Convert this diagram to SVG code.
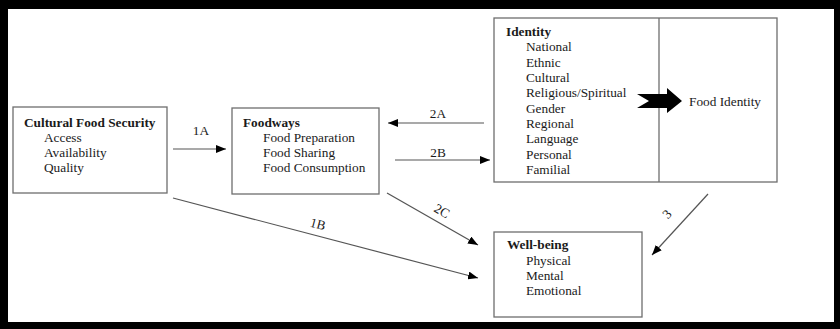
<svg xmlns="http://www.w3.org/2000/svg" width="840" height="329" viewBox="0 0 840 329">
<style>
  text { font-family: "Liberation Serif", "Times New Roman", serif; font-size: 13.3px; fill: #1a1a1a; }
  .b { font-weight: bold; }
  .box { fill: #ffffff; stroke: #6e6e6e; stroke-width: 1.3; }
  .ln { stroke: #555555; stroke-width: 1.2; fill: none; marker-end: url(#ah); }
</style>
<defs>
  <marker id="ah" viewBox="0 0 10 8" refX="10" refY="4" markerWidth="10" markerHeight="8" markerUnits="userSpaceOnUse" orient="auto">
    <path d="M0,0 L10,4 L0,8 Z" fill="#000"/>
  </marker>
</defs>
<rect x="0" y="0" width="840" height="329" fill="#000"/>
<rect x="8" y="9" width="826" height="313" fill="#fff"/>

<g id="cultural-food-security">
  <rect class="box" x="13" y="107" width="154" height="86"/>
  <text class="b" x="24" y="127">Cultural Food Security</text>
  <text x="44" y="142">Access</text>
  <text x="44" y="157">Availability</text>
  <text x="44" y="172">Quality</text>
</g>

<g id="foodways">
  <rect class="box" x="232" y="108" width="147" height="86"/>
  <text class="b" x="243" y="127">Foodways</text>
  <text x="263" y="142">Food Preparation</text>
  <text x="263" y="157">Food Sharing</text>
  <text x="263" y="172">Food Consumption</text>
</g>

<g id="identity">
  <rect class="box" x="494" y="18" width="283" height="164"/>
  <line x1="659" y1="18" x2="659" y2="182" stroke="#6e6e6e" stroke-width="1.3"/>
  <text class="b" x="506" y="36">Identity</text>
  <text x="526" y="51.3">National</text>
  <text x="526" y="66.7">Ethnic</text>
  <text x="526" y="82">Cultural</text>
  <text x="526" y="97.3">Religious/Spiritual</text>
  <text x="526" y="112.7">Gender</text>
  <text x="526" y="128">Regional</text>
  <text x="526" y="143.3">Language</text>
  <text x="526" y="158.7">Personal</text>
  <text x="526" y="174">Familial</text>
  <path d="M637,94 L667,94 L667,88 L682,101 L667,113 L667,108 L637,108 L649,101 Z" fill="#000"/>
  <text x="689" y="106">Food Identity</text>
</g>

<g id="well-being">
  <rect class="box" x="494" y="232" width="148" height="85"/>
  <text class="b" x="507" y="249">Well-being</text>
  <text x="526" y="265">Physical</text>
  <text x="526" y="280">Mental</text>
  <text x="526" y="295">Emotional</text>
</g>

<g id="connectors">
  <line class="ln" x1="173" y1="149" x2="226" y2="149"/>
  <text x="201" y="134.5" text-anchor="middle">1A</text>
  <line class="ln" x1="484" y1="123" x2="388" y2="123"/>
  <text x="438" y="117.5" text-anchor="middle">2A</text>
  <line class="ln" x1="395" y1="160" x2="490" y2="160"/>
  <text x="438" y="156.5" text-anchor="middle">2B</text>
  <line class="ln" x1="173" y1="198" x2="478" y2="278"/>
  <text x="318" y="228.5" text-anchor="middle" transform="rotate(14.7 318 224)">1B</text>
  <line class="ln" x1="387" y1="193" x2="478" y2="245"/>
  <text x="442" y="215.5" text-anchor="middle" transform="rotate(29.7 442 211)">2C</text>
  <line class="ln" x1="708" y1="194" x2="652" y2="255"/>
  <text x="667" y="218.5" text-anchor="middle" transform="rotate(-47.4 667 214)">3</text>
</g>
</svg>
